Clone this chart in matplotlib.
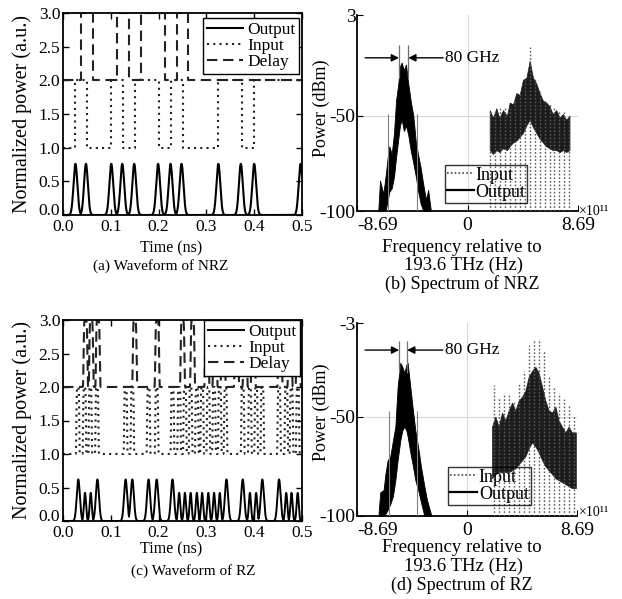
import numpy as np
import matplotlib
matplotlib.use('Agg')
import matplotlib.pyplot as plt
from matplotlib.lines import Line2D

plt.rcParams['font.family'] = ['Liberation Serif', 'DejaVu Serif']
plt.rcParams['axes.unicode_minus'] = False

# ---------------- data ----------------
# (a) NRZ waveforms (time in ns)
nrz_input_edges = [0.0, 0.025, 0.05, 0.10, 0.125, 0.15, 0.20, 0.225, 0.25, 0.325, 0.375, 0.40, 0.50]
nrz_input_levels = [1.0, 2.0, 1.0, 2.0, 1.0, 2.0, 1.0, 2.0, 1.0, 2.0, 1.0, 2.0]
nrz_delay_edges = [0.0, 0.0375, 0.0625, 0.1125, 0.1375, 0.1625, 0.2125, 0.2375, 0.2625, 0.50]
nrz_delay_levels = [2.0, 3.0, 2.0, 3.0, 2.0, 3.0, 2.0, 3.0, 2.0]
nrz_output_peaks = [0.026, 0.048, 0.101, 0.124, 0.149, 0.199, 0.225, 0.248, 0.325, 0.372, 0.400, 0.497]
nrz_output_heights = [0.76, 0.76, 0.76, 0.76, 0.76, 0.76, 0.76, 0.76, 0.76, 0.76, 0.76, 0.76]

# (c) RZ waveforms
rz_output_peaks = [0.032, 0.046, 0.058, 0.072, 0.131, 0.145, 0.179, 0.196, 0.229, 0.243, 0.255,
                   0.267, 0.280, 0.291, 0.304, 0.316, 0.328, 0.342, 0.376, 0.391, 0.404, 0.417,
                   0.452, 0.467, 0.478, 0.491]
rz_output_heights = [0.62, 0.42, 0.42, 0.62, 0.62, 0.62, 0.62, 0.62, 0.62, 0.42, 0.42,
                     0.42, 0.42, 0.42, 0.42, 0.42, 0.42, 0.62, 0.62, 0.42, 0.42, 0.62,
                     0.62, 0.42, 0.42, 0.42]
rz_input_peaks = [0.031, 0.045, 0.057, 0.071, 0.131, 0.145, 0.179, 0.196, 0.229, 0.243, 0.255,
                  0.267, 0.280, 0.291, 0.304, 0.316, 0.328, 0.340, 0.376, 0.391, 0.404, 0.417,
                  0.452, 0.467, 0.478, 0.491]
rz_delay_peaks = [0.047, 0.059, 0.073, 0.150, 0.197, 0.250, 0.271, 0.301, 0.318, 0.335,
                  0.363, 0.381, 0.398, 0.454, 0.475, 0.492]

# (b) NRZ spectrum (frequency in units of 1e11 Hz, power in dBm)
nrz_out_f = [-7.01, -6.88, -6.62, -6.41, -6.30, -6.15, -5.96, -5.78, -5.62, -5.44, -5.31, -5.18,
             -5.00, -4.84, -4.66, -4.47, -4.26, -4.06, -3.87, -3.69, -3.48, -3.27, -3.09, -2.90]
nrz_out_up = [-99, -84, -91, -80, -73, -66, -70, -59, -42, -33, -24, -22,
              -26, -23, -33, -42, -50, -64, -71, -77, -86, -94, -89, -99]
nrz_out_low = [-100, -100, -100, -99, -95, -90, -88, -82, -72, -62, -55, -52,
               -58, -55, -60, -68, -75, -82, -90, -96, -100, -100, -100, -100]
nrz_band_f = [1.75, 2.00, 2.27, 2.50, 2.79, 3.10, 3.32, 3.58, 3.84, 4.10, 4.36, 4.63, 4.89,
              5.15, 5.41, 5.67, 5.93, 6.19, 6.45, 6.70, 6.98, 7.25, 7.50, 7.76, 8.02]
nrz_band_up = [-47, -51, -46, -51, -47, -50, -43, -44, -38, -39, -31, -30, -21,
               -30, -33, -38, -42, -43, -45, -49, -47, -51, -49, -52, -50]
nrz_band_low = [-68, -70, -68, -69, -67, -68, -66, -64, -63, -61, -59, -55, -52,
                -56, -59, -62, -64, -66, -67, -68, -68, -69, -68, -69, -68]
nrz_comb_f = [1.80, 2.19, 2.58, 2.97, 3.36, 3.75, 4.14, 4.50, 4.89, 5.28, 5.67, 6.06, 6.45,
              6.84, 7.23, 7.62, 8.01]
nrz_comb_top = [-48, -47, -46, -46, -45, -42, -38, -31, -14, -30, -37, -41, -44,
                -46, -47, -48, -49]
nrz_spike_f = [-6.23, -3.96]
nrz_spike_top = [-49, -49]

# (d) RZ spectrum
rz_out_f = [-6.98, -6.85, -6.59, -6.45, -6.27, -6.06, -5.85, -5.66, -5.48, -5.27, -5.11,
            -4.95, -4.79, -4.69, -4.48, -4.27, -4.08, -3.82, -3.64, -3.37, -3.16, -2.85]
rz_out_up = [-98, -88, -87, -79, -72, -70, -62, -55, -35, -23, -25,
             -28, -24, -23, -35, -47, -57, -67, -75, -85, -92, -99]
rz_out_low = [-100, -100, -100, -99, -97, -94, -90, -82, -72, -62, -57,
              -55, -57, -60, -68, -75, -82, -88, -93, -100, -100, -100]
rz_band_f = [1.98, 2.24, 2.50, 2.77, 3.03, 3.29, 3.56, 3.82, 4.08, 4.35, 4.61, 4.87, 5.14,
             5.40, 5.66, 5.93, 6.19, 6.45, 6.72, 6.98, 7.24, 7.50, 7.77, 8.03, 8.29, 8.60]
rz_band_up = [-55, -50, -55, -48, -52, -47, -43, -47, -42, -40, -37, -30, -27,
              -25, -28, -35, -42, -47, -48, -45, -52, -55, -58, -55, -58, -58]
rz_band_low = [-81, -79, -78, -78, -78, -78, -77, -76, -74, -72, -70, -66, -63,
               -65, -68, -72, -75, -77, -79, -81, -82, -83, -84, -85, -86, -86]
rz_comb_f = [2.11, 2.50, 2.90, 3.29, 3.69, 4.08, 4.48, 4.87, 5.27, 5.66, 6.06, 6.45, 6.85,
             7.24, 7.64, 8.03, 8.43]
rz_comb_top = [-34, -40, -38, -38, -42, -33, -27, -14, -12, -11, -17, -30, -35,
               -38, -41, -44, -50]
rz_spike_f = [-6.19, -3.95]
rz_spike_top = [-47, -47]

wave_xticks = [0.0, 0.1, 0.2, 0.3, 0.4, 0.5]
wave_yticks = [0.0, 0.5, 1.0, 1.5, 2.0, 2.5, 3.0]
spec_xticks = [-8.69, 0, 8.69]
spec_xlabels = ['-8.69', '0', '8.69']

# ---------------- figure ----------------
W, H = 622, 599
fig = plt.figure(figsize=(W / 100, H / 100), dpi=100)


def rect(l, t, r, b):
    return [l / W, 1 - b / H, (r - l) / W, (b - t) / H]


def ftext(x, y, s, **kw):
    fig.text(x / W, 1 - y / H, s, ha=kw.pop('ha', 'center'), va=kw.pop('va', 'center'), **kw)


def step_xy(edges, levels):
    e = np.asarray(edges, float)
    v = np.asarray(levels, float)
    return np.repeat(e, 2)[1:-1], np.repeat(v, 2)


t = np.linspace(0, 0.5, 6001)


def gauss_train(centers, heights, sig_of_h):
    y = np.zeros_like(t)
    for c, h in zip(centers, heights):
        y = np.maximum(y, h * np.exp(-0.5 * ((t - c) / sig_of_h(h)) ** 2))
    return y


def rz_train(centers, base, hw):
    y = np.zeros_like(t)
    for c in centers:
        y = np.maximum(y, np.exp(-np.abs((t - c) / hw) ** 6))
    return base + y


DOT = (0, (1, 2))
DASH = (0, (5, 2.7))


def style_wave(ax):
    ax.set_xlim(0, 0.5)
    ax.set_ylim(0, 3)
    ax.set_xticks(wave_xticks)
    ax.set_xticklabels(['%.1f' % v for v in wave_xticks])
    ax.set_yticks(wave_yticks)
    ylabs = ax.set_yticklabels(['%.1f' % v for v in wave_yticks])
    ylabs[0].set_verticalalignment('baseline')
    ax.tick_params(direction='in', top=True, right=True, length=4, width=1,
                   labelsize=12.5, pad=2)
    ax.tick_params(axis='x', pad=3)
    for s in ax.spines.values():
        s.set_linewidth(1.3)


def wave_legend(ax, anchor):
    leg = ax.legend(loc='upper right', bbox_to_anchor=anchor, fontsize=12.5,
                    labelspacing=0.0, handlelength=2.1, handletextpad=0.25,
                    borderpad=0.2, borderaxespad=0, fancybox=False, framealpha=1)
    leg.get_frame().set_edgecolor('black')
    leg.get_frame().set_linewidth(1.0)


# ---- (a)
ax = fig.add_axes(rect(63, 13, 302, 215))
ya = gauss_train(nrz_output_peaks, nrz_output_heights, lambda h: 0.0040)
ax.plot(t, ya, color='black', lw=1.5, label='Output')
xi, yi = step_xy(nrz_input_edges, nrz_input_levels)
ax.plot(xi, yi, color='#222222', lw=1.5, linestyle=DOT, label='Input')
xd, yd = step_xy(nrz_delay_edges, nrz_delay_levels)
ax.plot(xd, yd, color='#222222', lw=1.5, linestyle=DASH, label='Delay')
style_wave(ax)
wave_legend(ax, (0.989, 0.974))

# ---- (c)
ax = fig.add_axes(rect(63, 320, 302, 521))
yc = gauss_train(rz_output_peaks, rz_output_heights, lambda h: 0.0033 if h > 0.5 else 0.0022)
ax.plot(t, yc, color='black', lw=1.4, label='Output')
ax.plot(t, rz_train(rz_input_peaks, 1.0, 0.0032), color='#222222', lw=1.5,
        linestyle=DOT, label='Input')
ax.plot(t, rz_train(rz_delay_peaks, 2.0, 0.0042), color='#222222', lw=1.5,
        linestyle=DASH, label='Delay')
style_wave(ax)
wave_legend(ax, (0.992, 0.998))

for y0, cap, ycap, xcap, ylab in [(248, '(a) Waveform of NRZ', 266, 161, 114),
                                  (549, '(c) Waveform of RZ', 571, 193, 420)]:
    ftext(171, y0, 'Time (ns)', fontsize=11.5)
    ftext(xcap, ycap, cap, fontsize=11)
    ftext(22, ylab, 'Normalized power (a.u.)', fontsize=14.5, rotation=90)


# ---- spectra
def spectrum(box, ylim, yticks, out_f, out_up, out_low, band_f, band_up, band_low,
             comb_f, comb_top, spike_f, spike_top, mk_f, mk_y, arrow_y, leg_anchor):
    ax = fig.add_axes(rect(*box))
    ax.set_xlim(-8.69, 8.69)
    ax.set_ylim(*ylim)
    ax.axvline(0, color='#d8d8d8', lw=0.8, zorder=0)
    ax.axhline(-50, color='#d8d8d8', lw=0.8, zorder=0)
    # output (converted) spectrum
    ax.fill_between(out_f, out_low, out_up, color='black', lw=0.6, zorder=2)
    ax.vlines(spike_f, ylim[0], spike_top, color='#808080', lw=0.8, zorder=3)
    # residual band and input comb
    ax.fill_between(band_f, band_low, band_up, color='#1c1c1c', lw=0.5, zorder=2)
    ax.vlines(comb_f, ylim[0], comb_top, color='#5a5a5a', lw=1.0,
              linestyles=[(0, (1.2, 1.4))], zorder=3)
    # 80 GHz marker
    ax.vlines(mk_f, mk_y[0], mk_y[1], color='#707070', lw=0.9, zorder=4)
    ax.annotate('', xy=(mk_f[0], arrow_y), xytext=(-8.05, arrow_y),
                arrowprops=dict(arrowstyle='-|>', color='black', lw=1.0,
                                mutation_scale=11, shrinkA=0, shrinkB=0))
    ax.annotate('', xy=(mk_f[1], arrow_y), xytext=(-1.91, arrow_y),
                arrowprops=dict(arrowstyle='-|>', color='black', lw=1.0,
                                mutation_scale=11, shrinkA=0, shrinkB=0))
    ax.text(-1.75, arrow_y, '80 GHz', fontsize=12.5, ha='left', va='center')
    # axes style
    for s in ['top', 'right']:
        ax.spines[s].set_visible(False)
    for s in ['left', 'bottom']:
        ax.spines[s].set_linewidth(1.3)
    ax.set_xticks(spec_xticks)
    labs = ax.set_xticklabels(spec_xlabels)
    labs[0].set_horizontalalignment('left')
    ax.set_yticks(yticks)
    ax.set_yticklabels(['%d' % v for v in yticks])
    ax.tick_params(axis='x', direction='in', length=4, labelsize=14, pad=4)
    ax.tick_params(axis='y', direction='in', length=4, labelsize=14, pad=1)
    handles = [Line2D([], [], color='#444444', lw=1.2, linestyle=(0, (1, 1.3))),
               Line2D([], [], color='black', lw=1.6)]
    leg = ax.legend(handles, ['Input', 'Output'], loc='upper left', bbox_to_anchor=leg_anchor,
                    fontsize=13, labelspacing=0.0, handlelength=1.5, handletextpad=0.1,
                    borderpad=0.1, borderaxespad=0, fancybox=False)
    leg.get_frame().set_facecolor('none')
    leg.get_frame().set_edgecolor('black')
    leg.get_frame().set_linewidth(1.0)
    return ax


spectrum((357, 15, 578, 211), (-100, 3), [3, -50, -100], nrz_out_f, nrz_out_up, nrz_out_low,
         nrz_band_f, nrz_band_up, nrz_band_low, nrz_comb_f, nrz_comb_top,
         nrz_spike_f, nrz_spike_top, [-5.39, -4.66], (-30, -13), -19.5, (0.398, 0.235))
spectrum((357, 323, 577, 516), (-100, -3), [-3, -50, -100], rz_out_f, rz_out_up, rz_out_low,
         rz_band_f, rz_band_up, rz_band_low, rz_comb_f, rz_comb_top,
         rz_spike_f, rz_spike_top, [-5.36, -4.73], (-28, -12), -16.6, (0.414, 0.254))

for ylab, yf, ycap, cap, yx in [(108, 247, 284, '(b) Spectrum of NRZ', 212),
                                (412, 548, 585, '(d) Spectrum of RZ', 512)]:
    ftext(321, ylab, 'Power (dBm)', fontsize=13, rotation=90)
    ftext(462, yf, 'Frequency relative to', fontsize=13.5)
    ftext(463, yf + 18, '193.6 THz (Hz)', fontsize=13.5)
    ftext(462, ycap, cap, fontsize=13)
    ftext(579, yx, '×10¹¹', fontsize=10, ha='left')

fig.savefig('out.png', dpi=100)
